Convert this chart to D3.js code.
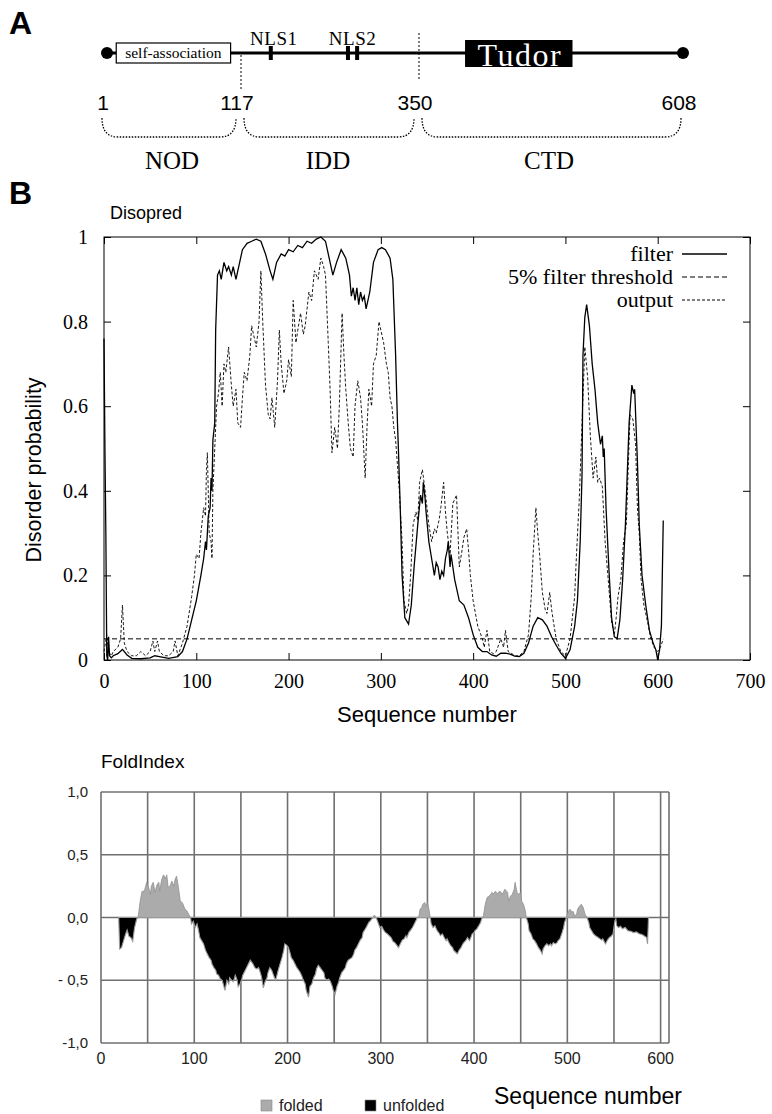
<!DOCTYPE html>
<html><head><meta charset="utf-8">
<script src="https://cdn.jsdelivr.net/npm/d3@7/dist/d3.min.js"></script>
<style>body{margin:0;background:#fff}</style>
</head><body>
<svg id="c" width="772" height="1114"></svg>
<script>
// ---------------- DATA ----------------
// Panel A: domain architecture
const domainBounds = [1, 117, 350, 608];
const domainNames = ["NOD", "IDD", "CTD"];
const selfAssocRange = [9, 108];
const nls1Pos = [156];
const nls2Pos = [257, 269];
const tudorRange = [395, 500];

// Panel B: Disopred
const disoXTicks = [0, 100, 200, 300, 400, 500, 600, 700];
const disoYTicks = [0, 0.2, 0.4, 0.6, 0.8, 1];
const thresholdValue = 0.05;
const thresholdRange = [0, 606];
const filterPos = [0,1,2,3,4,5,6,8,10,15,20,25,30,40,50,55,60,70,80,85,90,95,100,105,108,110,111,113,115,116,117,118,120,121,123,125,127,130,133,135,138,140,143,147,150,155,160,165,170,175,180,183,187,192,196,200,205,210,215,220,225,230,235,240,244,248,252,257,262,266,268,270,272,274,276,278,280,282,284,286,288,292,297,301,305,310,313,316,318,319,321,323,326,330,333,336,340,343,345,346,348,349,352,355,358,360,362,364,366,368,370,372,373,375,376,380,385,390,395,400,405,410,415,420,425,430,435,440,445,450,455,460,465,470,475,480,485,490,495,500,505,510,513,516,518,519,521,523,526,529,532,535,538,540,541,542,544,547,550,553,556,559,562,565,567,569,572,574,575,578,580,583,587,591,595,598,600,602,604,606];
const filterVal = [0.76,0.5,0.3,0.01,0.0,0.055,0.01,0.005,0.01,0.015,0.025,0.012,0.004,0.003,0.005,0.01,0.008,0.004,0.008,0.02,0.05,0.095,0.14,0.2,0.24,0.28,0.26,0.34,0.36,0.43,0.4,0.52,0.56,0.78,0.91,0.92,0.9,0.94,0.92,0.93,0.91,0.93,0.9,0.94,0.97,0.985,0.99,0.995,0.99,0.96,0.92,0.9,0.94,0.96,0.955,0.97,0.965,0.98,0.975,0.99,0.985,0.995,1.0,0.99,0.95,0.91,0.94,0.97,0.95,0.91,0.86,0.88,0.85,0.88,0.84,0.87,0.85,0.86,0.83,0.85,0.87,0.94,0.97,0.975,0.97,0.95,0.9,0.72,0.56,0.5,0.36,0.2,0.1,0.085,0.13,0.22,0.32,0.39,0.37,0.42,0.38,0.35,0.28,0.24,0.2,0.23,0.22,0.19,0.21,0.2,0.24,0.26,0.28,0.22,0.25,0.19,0.14,0.13,0.1,0.06,0.03,0.02,0.02,0.012,0.009,0.016,0.016,0.014,0.009,0.008,0.016,0.04,0.08,0.1,0.095,0.08,0.055,0.035,0.016,0.004,0.024,0.08,0.14,0.28,0.44,0.72,0.81,0.84,0.79,0.7,0.64,0.56,0.51,0.53,0.48,0.5,0.36,0.22,0.1,0.055,0.05,0.095,0.19,0.32,0.44,0.56,0.65,0.63,0.64,0.47,0.32,0.2,0.13,0.07,0.04,0.024,0.0,0.024,0.08,0.33];
const outputPos = [0,3,5,8,10,15,18,20,22,25,30,35,40,45,50,53,55,58,60,65,70,75,77,80,85,90,95,98,100,103,105,108,110,111,112,114,116,117,118,120,122,124,126,128,130,132,135,138,140,143,145,148,150,152,155,158,160,162,165,168,170,172,175,178,180,182,185,188,190,192,195,198,200,203,205,208,210,213,216,218,222,225,228,232,235,238,240,243,245,247,250,253,255,258,260,262,265,267,270,272,275,278,280,283,285,287,290,292,295,298,300,303,306,308,310,312,314,316,318,320,323,325,328,330,332,335,338,340,342,345,348,350,352,355,358,360,363,365,368,370,372,375,378,382,385,388,390,393,395,397,400,405,410,412,415,418,422,425,430,433,435,438,442,445,450,455,460,463,465,468,470,472,475,478,480,483,485,487,490,495,500,505,510,512,515,518,521,524,527,530,533,535,537,540,543,546,550,553,555,557,560,563,566,568,570,573,576,578,580,582,585,588,590,592,596,600,603,606];
const outputVal = [0.02,0.06,0.02,0.01,0.02,0.03,0.05,0.13,0.04,0.02,0.01,0.01,0.02,0.01,0.02,0.045,0.02,0.045,0.02,0.01,0.01,0.02,0.045,0.01,0.04,0.08,0.15,0.2,0.25,0.24,0.3,0.36,0.34,0.45,0.49,0.3,0.28,0.24,0.4,0.5,0.6,0.63,0.68,0.6,0.7,0.68,0.74,0.65,0.6,0.64,0.56,0.55,0.62,0.68,0.66,0.72,0.79,0.77,0.74,0.8,0.92,0.8,0.65,0.58,0.57,0.62,0.55,0.66,0.78,0.7,0.63,0.66,0.71,0.67,0.85,0.75,0.78,0.82,0.77,0.79,0.87,0.85,0.92,0.9,0.95,0.93,0.91,0.75,0.64,0.49,0.55,0.5,0.6,0.82,0.72,0.64,0.55,0.5,0.48,0.6,0.66,0.62,0.56,0.43,0.55,0.64,0.6,0.7,0.72,0.8,0.78,0.75,0.7,0.68,0.62,0.6,0.55,0.52,0.46,0.4,0.28,0.14,0.11,0.13,0.19,0.32,0.35,0.33,0.42,0.45,0.4,0.36,0.32,0.28,0.31,0.3,0.33,0.36,0.42,0.35,0.3,0.25,0.37,0.39,0.22,0.26,0.29,0.31,0.26,0.2,0.14,0.08,0.05,0.03,0.07,0.02,0.015,0.02,0.05,0.03,0.07,0.02,0.015,0.01,0.01,0.02,0.06,0.15,0.25,0.36,0.3,0.25,0.16,0.12,0.11,0.16,0.12,0.09,0.05,0.02,0.01,0.05,0.15,0.25,0.38,0.56,0.74,0.67,0.53,0.43,0.48,0.42,0.43,0.41,0.28,0.2,0.09,0.06,0.1,0.15,0.19,0.28,0.32,0.45,0.58,0.57,0.51,0.36,0.3,0.19,0.13,0.1,0.08,0.055,0.03,0.02,0.03,0.05];
const legendLabels = ["filter", "5% filter threshold", "output"];

// FoldIndex
const foldXTicks = [0, 100, 200, 300, 400, 500, 600];
const foldXGrid = [0, 50, 100, 150, 200, 250, 300, 350, 400, 450, 500, 550, 600, 609];
const foldYTicks = [1, 0.5, 0, -0.5, -1];
const foldYLabels = ["1,0", "0,5", "0,0", "- 0,5", "-1,0"];
const foldPos = [19,20,22,24,26,28,30,32,34,36,38,39,40,42,44,45,47,49,51,53,54,56,58,60,62,63,65,67,69,70.5,72,74,76,78,79.5,81,83,85,87,88,90,92,94,96,97,99,101,103,104.5,106,108,110,112,114,116,118,119,121,123,124,126,128,130,131,133,135,137,138,140,142,144,146,147,149,151,152,154,156,158,160,162,163,165,167,169,170,172,174,176,178,179,181,183,185,187,188,190,192,194,196,197,199,201,203,204,206,208,210,212,213,215,217,219,220,222.5,224,226,228,230,231,233,235,237,239,240,242,244,246,248,249,251,253,255,256,258,260,262,263,265,267,269,271,272,274,276,278,280,281,283,285,287,289,290,292,293,295,297,299,301,303,305,307,309,311,313,315,317,319,321,323,325,327,328,330,332,334,336,338,339,341,342,344,345,347,349,350,352,353,354,356,358,360,362,364,366,368,370,371,373,375,377,378,380,382,384,386,388,389,391,393,395,396,398,400,401,403,405,407,408,409,410,412,414,416,418,419,421,423,425,426,428,430,432,433,436,437,439,441,443,444,446,448,450,451,453,455,456,458,459,461,463,465,467,469,471,473,474,476,478,480,482,483,485,487,489,490,492,494,496,497,499,501,503,505,506,508,510,511,513,515,517,519,521,523,524,526,528,530,531,533,535,537,538,540,541,543,545,547,549,551,552,553,555,557,559,562,565,568,571,574,577,580,583,585,586,587];
const foldVal = [0,-0.25,-0.24,-0.19,-0.14,-0.1,-0.15,-0.16,-0.19,-0.08,-0.02,0,0.01,0.13,0.21,0.2,0.225,0.28,0.24,0.185,0.25,0.28,0.2,0.26,0.28,0.21,0.3,0.34,0.31,0.34,0.24,0.25,0.29,0.25,0.305,0.33,0.24,0.13,0.12,0.105,0.066,0.053,0.026,0,-0.05,-0.03,-0.08,-0.05,-0.1,-0.16,-0.185,-0.21,-0.26,-0.29,-0.32,-0.34,-0.37,-0.4,-0.42,-0.45,-0.46,-0.49,-0.5,-0.53,-0.58,-0.5,-0.53,-0.48,-0.5,-0.51,-0.46,-0.5,-0.55,-0.53,-0.49,-0.46,-0.43,-0.4,-0.37,-0.34,-0.36,-0.37,-0.4,-0.41,-0.4,-0.42,-0.47,-0.56,-0.51,-0.48,-0.44,-0.4,-0.42,-0.46,-0.5,-0.48,-0.42,-0.37,-0.32,-0.26,-0.21,-0.22,-0.24,-0.29,-0.32,-0.34,-0.37,-0.4,-0.42,-0.43,-0.46,-0.5,-0.53,-0.58,-0.635,-0.55,-0.53,-0.48,-0.45,-0.41,-0.38,-0.4,-0.42,-0.44,-0.48,-0.5,-0.49,-0.51,-0.55,-0.58,-0.61,-0.55,-0.51,-0.48,-0.44,-0.42,-0.4,-0.37,-0.34,-0.33,-0.32,-0.29,-0.26,-0.24,-0.21,-0.18,-0.16,-0.12,-0.095,-0.07,-0.04,-0.026,-0.013,0,0.02,0,-0.04,-0.08,-0.07,-0.1,-0.12,-0.13,-0.145,-0.16,-0.19,-0.2,-0.22,-0.24,-0.21,-0.18,-0.17,-0.145,-0.16,-0.12,-0.1,-0.08,-0.05,-0.02,0,0.013,0.066,0.08,0.105,0.12,0.09,0.12,0.05,0,-0.05,-0.08,-0.066,-0.1,-0.12,-0.145,-0.13,-0.16,-0.185,-0.17,-0.2,-0.225,-0.24,-0.26,-0.275,-0.29,-0.26,-0.24,-0.21,-0.2,-0.185,-0.16,-0.185,-0.17,-0.13,-0.12,-0.105,-0.09,-0.066,-0.04,-0.013,0,0.013,0.105,0.16,0.17,0.185,0.2,0.19,0.21,0.185,0.2,0.21,0.185,0.21,0.225,0.2,0.13,0.17,0.185,0.225,0.28,0.2,0.185,0.2,0.13,0.105,0.05,0,-0.05,-0.105,-0.13,-0.17,-0.185,-0.21,-0.24,-0.26,-0.29,-0.25,-0.225,-0.21,-0.225,-0.21,-0.225,-0.2,-0.21,-0.2,-0.185,-0.17,-0.13,-0.08,-0.04,0,0.05,0.066,0.04,0.05,0.013,0.026,0.066,0.09,0.105,0.08,0.026,0,-0.04,-0.08,-0.105,-0.13,-0.145,-0.15,-0.16,-0.17,-0.18,-0.17,-0.2,-0.21,-0.18,-0.16,-0.15,-0.13,-0.026,-0.01,-0.066,-0.08,-0.07,-0.09,-0.08,-0.105,-0.11,-0.12,-0.115,-0.13,-0.135,-0.15,-0.16,-0.21,0];
const foldLegend = ["folded", "unfolded"];

// ---------------- DRAW ----------------
const SANS = "'Liberation Sans', Arial, sans-serif";
const SERIF = "'Liberation Serif', 'Times New Roman', serif";
const svg = d3.select("#c");
svg.append("rect").attr("width", 772).attr("height", 1114).attr("fill", "#fff");

// panel letters
svg.append("text").text("A").attr("x", 9).attr("y", 34)
  .attr("font-family", SANS).attr("font-weight", "bold").attr("font-size", 32);
svg.append("text").text("B").attr("x", 9).attr("y", 204)
  .attr("font-family", SANS).attr("font-weight", "bold").attr("font-size", 32);

// ---- Panel A ----
const sA = d3.scaleLinear().domain(domainBounds).range([107, 241, 419, 683]);
const gA = svg.append("g");
const lineY = 53;
gA.append("line").attr("x1", sA(1)).attr("x2", sA(608)).attr("y1", lineY).attr("y2", lineY)
  .attr("stroke", "#000").attr("stroke-width", 3);
gA.selectAll("circle.end").data([1, 608]).enter().append("circle")
  .attr("cx", d => sA(d)).attr("cy", lineY).attr("r", 6).attr("fill", "#000");
gA.append("rect").attr("x", sA(selfAssocRange[0])).attr("y", 43)
  .attr("width", sA(selfAssocRange[1]) - sA(selfAssocRange[0])).attr("height", 20)
  .attr("fill", "#fff").attr("stroke", "#000").attr("stroke-width", 1.2);
gA.append("text").text("self-association")
  .attr("x", (sA(selfAssocRange[0]) + sA(selfAssocRange[1])) / 2).attr("y", 58)
  .attr("text-anchor", "middle").attr("font-family", SERIF).attr("font-size", 15.5);
gA.selectAll("rect.nls").data(nls1Pos.concat(nls2Pos)).enter().append("rect")
  .attr("x", d => sA(d) - 2).attr("y", 46).attr("width", 4).attr("height", 14).attr("fill", "#000");
gA.append("text").text("NLS1").attr("x", sA(nls1Pos[0]) + 3).attr("y", 45)
  .attr("text-anchor", "middle").attr("font-family", SERIF).attr("font-size", 19).attr("letter-spacing", 0.5);
gA.append("text").text("NLS2").attr("x", (sA(nls2Pos[0]) + sA(nls2Pos[1])) / 2).attr("y", 45)
  .attr("text-anchor", "middle").attr("font-family", SERIF).attr("font-size", 19).attr("letter-spacing", 0.5);
gA.append("line").attr("x1", sA(117)).attr("x2", sA(117)).attr("y1", 55).attr("y2", 90)
  .attr("stroke", "#000").attr("stroke-dasharray", "2,2");
gA.append("line").attr("x1", sA(350)).attr("x2", sA(350)).attr("y1", 33).attr("y2", 80)
  .attr("stroke", "#000").attr("stroke-dasharray", "2,2");
gA.append("rect").attr("x", sA(tudorRange[0])).attr("y", 40)
  .attr("width", sA(tudorRange[1]) - sA(tudorRange[0])).attr("height", 27).attr("fill", "#000");
gA.append("text").text("Tudor").attr("x", (sA(tudorRange[0]) + sA(tudorRange[1])) / 2 + 1).attr("y", 66)
  .attr("text-anchor", "middle").attr("font-family", SERIF).attr("font-size", 32).attr("fill", "#fff")
  .attr("letter-spacing", 1.5);
gA.selectAll("text.num").data(domainBounds).enter().append("text")
  .text(d => d).attr("x", d => sA(d) - 4).attr("y", 110)
  .attr("text-anchor", "middle").attr("font-family", SANS).attr("font-size", 21);
// braces
const braceSpans = domainNames.map((n, i) => [domainBounds[i], domainBounds[i + 1]]);
gA.selectAll("path.brace").data(braceSpans).enter().append("path")
  .attr("d", (d, i) => {
    const x0 = sA(d[0]) + (i === 0 ? -5 : 3), x1 = sA(d[1]) - (i === 2 ? 2 : 5);
    const yt = 118, yb = 137;
    return `M${x0},${yt} Q${x0},${yb} ${x0 + 16},${yb} L${x1 - 16},${yb} Q${x1},${yb} ${x1},${yt}`;
  })
  .attr("fill", "none").attr("stroke", "#000").attr("stroke-width", 1.3).attr("stroke-dasharray", "1.5,1.5");
gA.selectAll("text.dom").data(braceSpans).enter().append("text")
  .text((d, i) => domainNames[i])
  .attr("x", d => (sA(d[0]) + sA(d[1])) / 2 - 2).attr("y", 169)
  .attr("text-anchor", "middle").attr("font-family", SERIF).attr("font-size", 25);

// ---- Disopred ----
const dx = d3.scaleLinear().domain([0, 700]).range([104, 750]);
const dy = d3.scaleLinear().domain([0, 1]).range([660, 237]);
const gD = svg.append("g");
svg.append("text").text("Disopred").attr("x", 110).attr("y", 219)
  .attr("font-family", SANS).attr("font-size", 18);
gD.append("rect").attr("x", dx(0)).attr("y", dy(1)).attr("width", dx(700) - dx(0)).attr("height", dy(0) - dy(1))
  .attr("fill", "none").attr("stroke", "#000").attr("stroke-width", 1);
const axB = gD.append("g").attr("transform", `translate(0,${dy(0)})`)
  .call(d3.axisBottom(dx).tickValues(disoXTicks).tickSizeInner(-7).tickSizeOuter(0).tickPadding(14).tickFormat(d => d));
const axT = gD.append("g").attr("transform", `translate(0,${dy(1)})`)
  .call(d3.axisTop(dx).tickValues(disoXTicks).tickSizeInner(-7).tickSizeOuter(0).tickFormat(""));
const axL = gD.append("g").attr("transform", `translate(${dx(0)},0)`)
  .call(d3.axisLeft(dy).tickValues(disoYTicks).tickSizeInner(-7).tickSizeOuter(0).tickPadding(16).tickFormat(d => String(d)));
const axR = gD.append("g").attr("transform", `translate(${dx(700)},0)`)
  .call(d3.axisRight(dy).tickValues(disoYTicks).tickSizeInner(-7).tickSizeOuter(0).tickFormat(""));
[axB, axT, axL, axR].forEach(a => {
  a.select(".domain").remove();
  a.selectAll("line").attr("stroke", "#000");
  a.selectAll("text").attr("font-family", SERIF).attr("font-size", 20).attr("fill", "#000");
});
svg.append("text").text("Disorder probability")
  .attr("transform", "translate(41,470) rotate(-90)").attr("text-anchor", "middle")
  .attr("font-family", SANS).attr("font-size", 21.5);
svg.append("text").text("Sequence number").attr("x", 427).attr("y", 722)
  .attr("text-anchor", "middle").attr("font-family", SANS).attr("font-size", 22);

const lineGen = d3.line().x(d => dx(d[0])).y(d => dy(d[1]));
const filterData = filterPos.map((p, i) => [p, filterVal[i]]);
const outputData = outputPos.map((p, i) => [p, outputVal[i]]);
gD.append("path").attr("d", lineGen(thresholdRange.map(p => [p, thresholdValue])))
  .attr("fill", "none").attr("stroke", "#000").attr("stroke-width", 1).attr("stroke-dasharray", "5,3");
gD.append("path").attr("d", lineGen(outputData))
  .attr("fill", "none").attr("stroke", "#000").attr("stroke-width", 0.9).attr("stroke-dasharray", "3,2");
gD.append("path").attr("d", lineGen(filterData))
  .attr("fill", "none").attr("stroke", "#000").attr("stroke-width", 1.3);

// legend
const legDash = [null, "5,3", "3,2"];
const legG = gD.append("g");
legendLabels.forEach((lab, i) => {
  const yy = 254 + i * 23;
  legG.append("text").text(lab).attr("x", 673).attr("y", yy + 7).attr("text-anchor", "end")
    .attr("font-family", SERIF).attr("font-size", 22);
  legG.append("line").attr("x1", 682).attr("x2", 727).attr("y1", yy).attr("y2", yy)
    .attr("stroke", "#000").attr("stroke-width", i === 0 ? 1.3 : 1)
    .attr("stroke-dasharray", legDash[i]);
});

// ---- FoldIndex ----
const fx = d3.scaleLinear().domain([0, 609]).range([101, 669]);
const fy = d3.scaleLinear().domain([-1, 1]).range([1043, 792]);
const gF = svg.append("g");
svg.append("text").text("FoldIndex").attr("x", 101).attr("y", 768)
  .attr("font-family", SANS).attr("font-size", 19);
const gridColor = "#707070";
gF.selectAll("line.vg").data(foldXGrid).enter().append("line")
  .attr("x1", d => fx(d)).attr("x2", d => fx(d)).attr("y1", fy(1)).attr("y2", fy(-1))
  .attr("stroke", gridColor).attr("stroke-width", 1.6);
gF.selectAll("line.hg").data(foldYTicks).enter().append("line")
  .attr("x1", fx(0)).attr("x2", fx(609)).attr("y1", d => fy(d)).attr("y2", d => fy(d))
  .attr("stroke", gridColor).attr("stroke-width", 1.6);
const foldData = foldPos.map((p, i) => ({ p, v: foldVal[i] }));
const areaPos = d3.area().x(d => fx(d.p)).y0(fy(0)).y1(d => fy(Math.max(0, d.v)));
const areaNeg = d3.area().x(d => fx(d.p)).y0(fy(0)).y1(d => fy(Math.min(0, d.v)));
gF.append("path").attr("d", areaPos(foldData)).attr("fill", "#ababab").attr("stroke", "#8f8f8f").attr("stroke-width", 0.8);
gF.append("path").attr("d", areaNeg(foldData)).attr("fill", "#000").attr("stroke", "#9a9a9a").attr("stroke-width", 1.1);
gF.selectAll("text.yl").data(foldYTicks).enter().append("text")
  .text((d, i) => foldYLabels[i]).attr("x", 88).attr("y", d => fy(d) + 5)
  .attr("text-anchor", "end").attr("font-family", SANS).attr("font-size", 15).attr("fill", "#222");
gF.selectAll("text.xl").data(foldXTicks).enter().append("text")
  .text(d => d).attr("x", d => fx(d)).attr("y", 1064)
  .attr("text-anchor", "middle").attr("font-family", SANS).attr("font-size", 16).attr("fill", "#222");
// legend
const legColors = ["#ababab", "#000"];
const legX = [261, 365];
foldLegend.forEach((lab, i) => {
  gF.append("rect").attr("x", legX[i]).attr("y", 1100).attr("width", 11).attr("height", 11)
    .attr("fill", legColors[i]).attr("stroke", "#888").attr("stroke-width", 0.6);
  gF.append("text").text(lab).attr("x", legX[i] + 18).attr("y", 1111)
    .attr("font-family", SANS).attr("font-size", 16).attr("fill", "#222");
});
svg.append("text").text("Sequence number").attr("x", 588).attr("y", 1104)
  .attr("text-anchor", "middle").attr("font-family", SANS).attr("font-size", 23);
</script>
</body></html>
